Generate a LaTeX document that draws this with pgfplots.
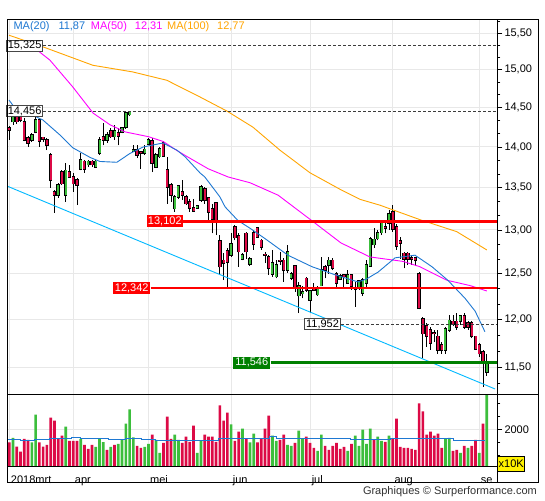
\documentclass[border=0pt]{standalone}
\usepackage{fontspec}
\setmainfont{Liberation Sans}
\usepackage{pgfplots}
\pgfplotsset{compat=1.18}
\usepackage{pgfplotstable}

\definecolor{ma20}{RGB}{30,120,210}
\definecolor{ma50}{RGB}{255,0,255}
\definecolor{ma100}{RGB}{255,165,0}
\definecolor{chan}{RGB}{0,185,255}
\definecolor{cgreen}{RGB}{60,190,60}
\definecolor{cred}{RGB}{220,10,70}
\definecolor{gridc}{RGB}{232,232,232}
\definecolor{lvlgreen}{RGB}{0,128,0}
\definecolor{lvlred}{RGB}{255,0,0}
\definecolor{dashc}{RGB}{60,60,60}
\definecolor{lblgray}{RGB}{70,70,70}
\newcommand{\lf}{\fontsize{11}{13}\selectfont}

\pgfplotstableread{
i O H L C
1 14.32 14.40 14.28 14.38
6 14.09 14.17 14.06 14.15
7 14.19 14.38 14.17 14.34
13 13.41 13.56 13.38 13.53
15 13.41 13.80 13.33 13.71
19 13.73 13.92 13.71 13.84
21 13.78 13.84 13.75 13.82
23 13.75 13.84 13.74 13.82
24 13.92 14.13 13.90 14.09
26 14.09 14.19 14.05 14.15
28 14.13 14.28 14.09 14.20
30 14.19 14.25 14.17 14.24
31 14.25 14.45 14.23 14.43
32 14.41 14.46 14.39 14.44
33 13.95 14.02 13.94 13.96
36 13.92 14.02 13.90 13.97
37 14.04 14.11 14.02 14.09
39 13.75 13.92 13.74 13.90
40 13.88 14.00 13.86 13.98
44 13.25 13.41 13.21 13.39
45 13.39 13.53 13.37 13.52
50 13.26 13.29 13.25 13.28
51 13.35 13.53 13.33 13.51
59 12.71 12.96 12.69 12.84
62 12.67 12.73 12.65 12.71
64 12.61 12.69 12.59 12.67
70 12.50 12.77 12.47 12.62
71 12.47 12.65 12.45 12.60
74 12.54 12.83 12.51 12.75
75 12.45 12.52 12.43 12.50
77 12.26 12.41 12.07 12.37
78 12.28 12.36 12.23 12.30
80 12.21 12.32 12.07 12.31
82 12.27 12.36 12.26 12.35
83 12.37 12.69 12.36 12.54
85 12.60 12.69 12.50 12.65
88 12.44 12.50 12.43 12.48
90 12.40 12.54 12.39 12.49
92 12.33 12.41 12.14 12.34
93 12.35 12.43 12.32 12.42
94 12.29 12.45 12.26 12.43
95 12.40 12.65 12.35 12.60
96 12.59 12.92 12.58 12.90
97 12.83 13.02 12.79 12.89
98 12.90 13.00 12.88 12.97
99 12.97 13.11 12.94 13.08
101 13.08 13.23 13.00 13.19
116 11.68 11.92 11.64 11.90
117 11.89 12.05 11.87 11.99
120 11.98 12.05 11.94 12.04
127 11.45 11.64 11.41 11.55
}\candleup

\pgfplotstableread{
i O H L C
0 14.24 14.26 14.09 14.21
2 14.38 14.42 14.29 14.32
3 14.40 14.43 14.31 14.34
4 14.32 14.37 14.07 14.09
5 14.11 14.14 14.00 14.05
8 14.34 14.37 14.00 14.07
9 14.12 14.13 14.06 14.10
10 14.09 14.11 13.96 14.02
11 13.90 13.92 13.50 13.59
12 13.45 13.47 13.20 13.41
14 13.69 13.71 13.53 13.55
16 13.69 13.78 13.62 13.63
17 13.63 13.68 13.45 13.55
18 13.59 13.62 13.29 13.53
20 13.82 13.84 13.68 13.73
22 13.82 13.84 13.75 13.78
25 14.13 14.30 14.02 14.09
27 14.20 14.24 14.11 14.13
29 14.18 14.24 14.02 14.14
34 13.96 14.02 13.86 13.90
35 13.94 13.95 13.73 13.92
38 14.08 14.11 13.69 13.80
41 14.05 14.07 13.88 13.89
42 13.72 13.88 13.31 13.51
43 13.53 13.56 13.33 13.41
46 13.45 13.59 13.35 13.41
47 13.39 13.41 13.29 13.31
48 13.33 13.37 13.21 13.26
49 13.26 13.37 13.21 13.22
52 13.49 13.51 13.31 13.35
53 13.38 13.39 13.11 13.21
54 13.25 13.31 12.96 13.13
55 13.32 13.33 12.94 13.11
56 12.87 12.94 12.50 12.58
57 12.65 12.73 12.43 12.62
58 12.76 12.79 12.34 12.63
60 13.04 13.06 12.88 12.91
61 12.93 12.96 12.58 12.75
63 12.96 12.98 12.67 12.75
65 12.97 13.00 12.77 12.84
66 13.02 13.04 12.91 12.92
67 12.88 12.90 12.77 12.80
68 12.72 12.75 12.62 12.71
69 12.69 12.71 12.49 12.56
72 12.65 12.75 12.60 12.64
73 12.65 12.68 12.41 12.54
76 12.59 12.60 12.30 12.34
79 12.45 12.47 12.30 12.32
81 12.34 12.40 12.31 12.32
84 12.58 12.60 12.45 12.54
86 12.65 12.68 12.54 12.56
87 12.50 12.52 12.34 12.40
89 12.49 12.50 12.34 12.47
91 12.49 12.50 12.32 12.36
100 13.04 13.09 12.96 13.02
102 13.21 13.29 12.98 13.01
103 13.04 13.07 12.77 12.81
104 12.87 12.92 12.67 12.85
105 12.73 12.75 12.56 12.67
106 12.73 12.75 12.60 12.67
107 12.68 12.71 12.60 12.67
108 12.68 12.69 12.59 12.65
109 12.50 12.52 12.11 12.12
110 12.01 12.03 11.59 11.85
111 11.93 11.96 11.71 11.82
112 11.89 11.92 11.68 11.75
113 11.86 11.89 11.76 11.85
114 11.82 11.89 11.64 11.68
115 11.73 11.76 11.64 11.68
118 11.98 12.05 11.93 11.95
119 11.98 12.07 11.89 11.92
121 12.04 12.07 11.90 11.92
122 11.96 11.98 11.89 11.92
123 11.96 11.98 11.80 11.82
124 11.82 11.83 11.68 11.69
125 11.73 11.75 11.61 11.64
126 11.66 11.68 11.30 11.56
}\candledown

\pgfplotstableread{
i v
1 1684
6 1502
7 2581
15 2113
19 1645
23 1333
24 1645
25 1515
27 1333
29 1450
30 1606
31 2230
32 2776
33 1697
36 1333
37 1450
39 1606
40 1099
44 1801
45 1606
50 1099
51 1580
59 2204
62 2035
64 1502
65 1840
70 1762
71 1567
74 1411
75 1372
77 1957
78 1645
82 1177
83 1801
90 1177
92 1762
93 1372
94 1996
95 1450
96 2035
98 1723
99 1567
101 1762
116 1645
117 1684
120 1099
122 1294
125 1099
127 3400
}\volup

\pgfplotstableread{
i v
0 1502
2 1346
3 1151
4 1645
5 1606
8 1502
9 1346
10 1411
11 2464
12 2347
13 1671
14 1762
16 1567
17 1567
18 1567
20 1411
21 1255
22 1411
26 1216
28 1411
34 1372
35 1294
38 1801
41 1489
42 2503
43 1645
46 1489
47 1723
48 1528
49 2152
52 1801
53 1723
54 1723
55 1528
56 2932
57 2347
58 2659
60 1567
61 1918
63 1645
66 1502
67 1658
68 2035
69 2542
72 1606
73 1801
76 1489
79 1723
80 1489
81 1294
84 1372
85 1216
86 1372
87 1489
88 1255
89 1333
91 1450
97 1606
100 1528
102 1645
103 2425
104 1333
105 1294
106 1294
107 1255
108 1216
109 3010
110 2698
111 1801
112 1918
113 1762
114 1840
115 1294
118 1177
119 1216
121 1372
123 1372
124 1606
126 2230
}\voldown

\begin{document}
\begin{tikzpicture}
\useasboundingbox (0pt,0pt) rectangle (545pt,500pt);
\fill[white] (0pt,0pt) rectangle (545pt,500pt);

% ---------------- price panel ----------------
\begin{axis}[
  at={(7pt,105pt)}, anchor=south west,
  width=490.3pt, height=375pt, scale only axis,
  xmin=-0.61, xmax=129.79,
  ymode=log, ymin=11.218, ymax=15.682,
  axis line style={draw=none},
  clip mode=individual,
  xtick={0,17,37,59,80,102,125}, xticklabels={},
  xtick style={draw=none},
  ytick={11.5,12,12.5,13,13.5,14,14.5,15,15.5},
  yticklabels={{11,50},{12,00},{12,50},{13,00},{13,50},{14,00},{14,50},{15,00},{15,50}},
  minor ytick={11.333,11.667,11.833,12.167,12.333,12.667,12.833,13.167,13.333,13.667,13.833,14.167,14.333,14.667,14.833,15.167,15.333,15.667},
  ytick pos=right, yticklabel pos=right,
  tick align=outside,
  major tick length=5pt, minor tick length=3pt,
  ytick style={black, line width=0.8pt},
  yticklabel style={font=\lf, anchor=west, inner sep=0pt, xshift=2pt},
  xmajorgrids, ymajorgrids,
  major grid style={gridc, line width=1pt},
]
% wicks
\addplot[draw=none, mark=none, forget plot,
  error bars/.cd, y dir=plus, y explicit, error mark=none,
  error bar style={draw=black, solid, line width=0.9pt}]
  table[x=i, y=L, y error expr=\thisrow{H}-\thisrow{L}] {\candleup};
\addplot[draw=none, mark=none, forget plot,
  error bars/.cd, y dir=plus, y explicit, error mark=none,
  error bar style={draw=black, solid, line width=0.9pt}]
  table[x=i, y=L, y error expr=\thisrow{H}-\thisrow{L}] {\candledown};
% body outlines
\addplot[draw=none, mark=none, forget plot,
  error bars/.cd, y dir=plus, y explicit, error mark=none,
  error bar style={draw=black, solid, line width=3.4pt}]
  table[x=i, y expr=\thisrow{O}*0.9993, y error expr=\thisrow{C}*1.0007-\thisrow{O}*0.9993] {\candleup};
\addplot[draw=none, mark=none, forget plot,
  error bars/.cd, y dir=plus, y explicit, error mark=none,
  error bar style={draw=black, solid, line width=3.4pt}]
  table[x=i, y expr=\thisrow{C}*0.9993, y error expr=\thisrow{O}*1.0007-\thisrow{C}*0.9993] {\candledown};
% body fills
\addplot[draw=none, mark=none, forget plot,
  error bars/.cd, y dir=plus, y explicit, error mark=none,
  error bar style={draw=cgreen, solid, line width=2.0pt}]
  table[x=i, y=O, y error expr=\thisrow{C}-\thisrow{O}] {\candleup};
\addplot[draw=none, mark=none, forget plot,
  error bars/.cd, y dir=plus, y explicit, error mark=none,
  error bar style={draw=cred, solid, line width=2.0pt}]
  table[x=i, y=C, y error expr=\thisrow{O}-\thisrow{C}] {\candledown};

% channel line
\addplot[chan, line width=0.9pt, forget plot] coordinates {(-0.61,13.52) (129.2,11.278)};
% moving averages
\addplot[ma100, line width=0.9pt, forget plot] coordinates {
(-0.08,15.47) (8.96,15.31) (22.26,15.06) (32.9,14.97) (41.9,14.86) (50.7,14.64)
(57.9,14.456) (64.8,14.25) (72.0,13.96) (80.0,13.68) (88.4,13.47) (93.3,13.36)
(98.6,13.29) (109.2,13.12) (119.0,12.98) (127.0,12.77)};
\addplot[ma50, line width=0.9pt, forget plot] coordinates {
(6.0,15.33) (7.3,15.27) (10.8,15.13) (16.9,14.77) (22.3,14.43) (26.8,14.28)
(30.8,14.19) (37.0,14.13) (40.9,14.07) (44.1,13.97) (47.3,13.88) (52.9,13.73)
(58.2,13.63) (64.0,13.56) (71.5,13.41) (80.4,13.11) (88.2,12.85) (95.9,12.69)
(104.7,12.64) (109.2,12.58) (116.3,12.43) (122.5,12.37) (127.0,12.31)};
\addplot[ma20, line width=0.9pt, forget plot] coordinates {
(-0.08,14.60) (0.98,14.53) (8.96,14.34) (13.5,14.15) (16.9,13.99) (21.5,13.87)
(24.1,13.82) (28.6,13.81) (32.1,13.92) (35.6,14.00) (40.9,14.05) (44.6,13.96)
(46.7,13.88) (50.7,13.68) (52.0,13.63) (56.0,13.39) (57.4,13.27) (60.8,13.11)
(64.0,13.02) (68.0,12.90) (74.1,12.71) (80.5,12.58) (86.6,12.49) (92.7,12.41)
(94.9,12.44) (98.1,12.52) (102.6,12.68) (107.9,12.71) (112.4,12.58) (116.6,12.43)
(121.2,12.23) (123.9,12.09) (126.5,11.87)};

% level lines
\addplot[dashc, line width=1pt, dash pattern=on 3pt off 2pt, forget plot] coordinates {(9.04,15.325) (129.79,15.325)};
\addplot[dashc, line width=1pt, dash pattern=on 3pt off 2pt, forget plot] coordinates {(9.04,14.456) (129.79,14.456)};
\addplot[dashc, line width=1pt, dash pattern=on 3pt off 2pt, forget plot] coordinates {(88.2,11.952) (129.79,11.952)};
\addplot[lvlred, line width=3pt, forget plot] coordinates {(46.28,13.102) (129.79,13.102)};
\addplot[lvlred, line width=1.5pt, forget plot] coordinates {(37.6,12.342) (129.79,12.342)};
\addplot[lvlgreen, line width=3pt, forget plot] coordinates {(69.52,11.546) (129.79,11.546)};

% level labels
\node[anchor=east, fill=white, draw=lblgray, line width=0.8pt, inner sep=0pt, minimum width=36.6pt, minimum height=11.4pt, font=\lf] at (axis cs:9.04,15.325) {15,325};
\node[anchor=east, fill=white, draw=lblgray, line width=0.8pt, inner sep=0pt, minimum width=36.6pt, minimum height=11.4pt, font=\lf] at (axis cs:9.04,14.456) {14,456};
\node[anchor=east, fill=white, draw=lblgray, line width=0.8pt, inner sep=0pt, minimum width=36pt, minimum height=11.4pt, font=\lf] at (axis cs:88.2,11.952) {11,952};
\node[anchor=east, fill=lvlred, text=white, inner sep=0pt, minimum width=36.6pt, minimum height=11.6pt, font=\lf] at (axis cs:46.28,13.102) {13,102};
\node[anchor=east, fill=lvlred, text=white, inner sep=0pt, minimum width=37.4pt, minimum height=12.6pt, font=\lf] at (axis cs:37.6,12.342) {12,342};
\node[anchor=east, fill=lvlgreen, text=white, inner sep=0pt, minimum width=37.4pt, minimum height=12.3pt, font=\lf] at (axis cs:69.52,11.546) {11,546};
\end{axis}

% ---------------- volume panel ----------------
\begin{axis}[
  at={(7pt,33.3pt)}, anchor=south west,
  width=490.3pt, height=71.7pt, scale only axis,
  xmin=-0.61, xmax=129.79, ymin=566, ymax=3335,
  axis line style={draw=none},
  xtick={0,17,37,59,80,102,125},
  xticklabels={2018mrt,apr,mei,jun,jul,aug,se},
  xtick style={draw=none},
  xticklabel style={font=\lf, anchor=north west, inner sep=0pt, xshift=1.5pt, yshift=-3.5pt, text height=8pt, text depth=2pt},
  ytick={2000}, yticklabels={2000},
  minor ytick={1000,1500,2500,3000},
  ytick pos=right, yticklabel pos=right, tick align=outside,
  major tick length=5pt, minor tick length=3pt,
  ytick style={black, line width=0.8pt},
  yticklabel style={font=\lf, anchor=west, inner sep=0pt, xshift=2pt},
  xmajorgrids, ymajorgrids,
  major grid style={gridc, line width=1pt},
]
\addplot[ybar, bar width=2.7pt, bar shift=0pt, fill=cgreen, draw=none, forget plot] table[x=i, y=v] {\volup};
\addplot[ybar, bar width=2.7pt, bar shift=0pt, fill=cred, draw=none, forget plot] table[x=i, y=v] {\voldown};
\addplot[const plot, ma20, line width=0.9pt, forget plot] coordinates {
(-0.27,1632) (2.85,1580) (6.8,1606) (10.8,1671) (16.6,1710) (18.8,1671) (26.3,1632)
(30.8,1671) (35.2,1632) (38.8,1580) (55.6,1658) (64.1,1671) (69.3,1723) (71.1,1671)
(90.6,1632) (101.3,1658) (104.8,1671) (118.1,1580) (126.5,1580)};
\end{axis}

% ---------------- frame ----------------
\draw[black, line width=1pt] (7pt,18pt) rectangle (538pt,480pt);
\draw[black, line width=1pt] (497.3pt,18pt) -- (497.3pt,480pt);
\draw[black, line width=1pt] (7pt,105pt) -- (538pt,105pt);
\draw[black, line width=1pt] (7pt,33.3pt) -- (497.3pt,33.3pt);

% x10K box
\node[anchor=south west, fill=yellow, draw=black, line width=0.8pt, inner sep=0pt, minimum width=27pt, minimum height=15pt, font=\lf] at (497.3pt,28.3pt) {x10K};

% legend
\node[anchor=base west, inner sep=0pt, text=ma20, font=\lf] at (13.3pt,470pt) {MA(20)};
\node[anchor=base west, inner sep=0pt, text=ma20, font=\lf] at (58.3pt,470pt) {11,87};
\node[anchor=base west, inner sep=0pt, text=ma50, font=\lf] at (90.7pt,470pt) {MA(50)};
\node[anchor=base west, inner sep=0pt, text=ma50, font=\lf] at (134.7pt,470pt) {12,31};
\node[anchor=base west, inner sep=0pt, text=ma100, font=\lf] at (167pt,470pt) {MA(100)};
\node[anchor=base west, inner sep=0pt, text=ma100, font=\lf] at (217pt,470pt) {12,77};

% footer
\node[anchor=base east, inner sep=0pt, text={rgb,255:red,50;green,50;blue,50}, font=\lf] at (537pt,5.5pt) {Graphiques © Surperformance.com};
\end{tikzpicture}
\end{document}
